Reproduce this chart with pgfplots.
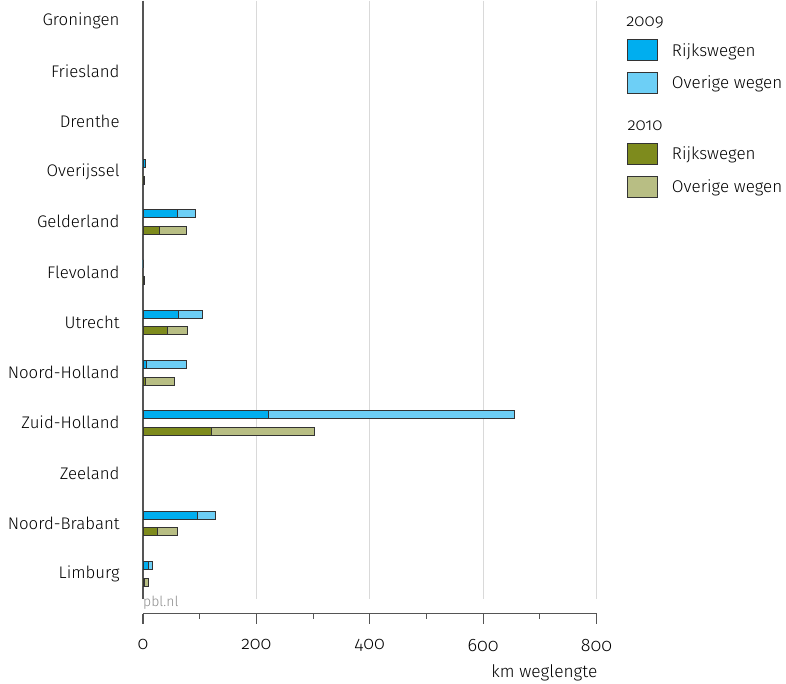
\documentclass[border=0pt]{standalone}
\usepackage{pgfplots}
\usepackage{pgfplotstable}
\pgfplotsset{compat=1.18}
\usepackage{fontspec}
\setmainfont{Fira Sans}[Numbers=OldStyle, UprightFont=* Light]

\definecolor{rijks09}{HTML}{00AEEF}
\definecolor{overig09}{HTML}{6DCFF6}
\definecolor{rijks10}{HTML}{7E8B1D}
\definecolor{overig10}{HTML}{B8BE84}
\definecolor{axisgray}{HTML}{555555}

% km weglengte per provincie (idx: 0 = Groningen ... 11 = Limburg)
\pgfplotstableread{
idx r09 o09 r10 o10
3   4   0   2   0
4   60  33  29  48
5   0   0   2   0
6   62  42  44  35
7   6   71  4   51
8   221 435 121 181
10  96  31  26  35
11  10  7   3   6
}\wegdata

\begin{document}
\begin{tikzpicture}[x=1pt,y=1pt]
\path (0,0) rectangle (786,683);
\begin{axis}[
    at={(143pt,85pt)}, anchor=south west,
    scale only axis, width=453.5pt, height=598pt,
    xmin=0, xmax=800,
    ymin=-0.398, ymax=11.5, y dir=reverse,
    clip=false,
    axis lines*=left,
    x axis line style={draw=none},
    y axis line style={axisgray, line width=1.3pt, -},
    xtick={200,400,600,800}, xticklabels={},
    xtick style={draw=none}, ytick style={draw=none},
    xmajorgrids, grid style={black!15, line width=1pt},
    ytick={0,...,11},
    yticklabels={Groningen,Friesland,Drenthe,Overijssel,Gelderland,Flevoland,Utrecht,Noord-Holland,Zuid-Holland,Zeeland,Noord-Brabant,Limburg},
    yticklabel style={anchor=east, inner sep=0pt, xshift=-19pt, font=\fontsize{16.8}{19}\selectfont},
    xbar, bar width=8pt, bar shift=0pt,
    every axis plot/.append style={draw=black!80, line width=0.9pt},
    legend cell align=left,
    legend image code/.code={\draw[#1] (0pt,-10.5pt) rectangle (30pt,10.5pt);},
    legend style={at={(1.067,0.975)}, anchor=north west, draw=none, fill=none,
        font=\fontsize{17}{19}\selectfont, row sep=10.5pt, inner sep=0pt,
        nodes={inner sep=1pt}, column sep=13pt},
]
% 2009
\addplot[fill=overig09, forget plot] table[x expr=\thisrow{r09}+\thisrow{o09}, y expr=\thisrow{idx}-0.16] {\wegdata};
\addplot[fill=rijks09, forget plot] table[x=r09, y expr=\thisrow{idx}-0.16] {\wegdata};
% 2010
\addplot[fill=overig10, forget plot] table[x expr=\thisrow{r10}+\thisrow{o10}, y expr=\thisrow{idx}+0.17] {\wegdata};
\addplot[fill=rijks10, forget plot] table[x=r10, y expr=\thisrow{idx}+0.17] {\wegdata};

\addlegendimage{empty legend}\addlegendentry{\hspace*{-53pt}2009}
\addlegendimage{fill=rijks09, draw=black!80, line width=0.9pt}\addlegendentry{Rijkswegen}
\addlegendimage{fill=overig09, draw=black!80, line width=0.9pt}\addlegendentry{Overige wegen}
\addlegendimage{empty legend}\addlegendentry{\hspace*{-53pt}\rule{0pt}{25pt}2010}
\addlegendimage{fill=rijks10, draw=black!80, line width=0.9pt}\addlegendentry{Rijkswegen}
\addlegendimage{fill=overig10, draw=black!80, line width=0.9pt}\addlegendentry{Overige wegen}

\node[anchor=north west, inner sep=0pt, text=black!45, font=\fontsize{14}{16}\selectfont, yshift=3pt] at (axis cs:0,11.5) {pbl.nl};
\end{axis}

% separate x-as
\begin{axis}[
    at={(143pt,70pt)}, anchor=south west,
    scale only axis, width=453.5pt, height=1pt,
    xmin=0, xmax=800, ymin=0, ymax=1,
    hide y axis,
    axis x line*=bottom,
    x axis line style={axisgray, line width=1.1pt, -},
    xtick={0,200,...,800},
    minor xtick={100,300,500,700},
    tick align=outside,
    major tick length=10pt, minor tick length=5pt,
    every tick/.style={axisgray, line width=1.1pt},
    /pgf/number format/assume math mode=true,
    xticklabel style={font=\fontsize{18}{20}\selectfont, yshift=-12pt},
    xlabel={km weglengte},
    xlabel style={at={(rel axis cs:1,0)}, anchor=north east, yshift=-51pt, xshift=1pt, font=\fontsize{17.3}{19}\selectfont, inner sep=0pt},
]
\addplot[draw=none] coordinates {(0,0)};
\end{axis}
\end{tikzpicture}
\end{document}
